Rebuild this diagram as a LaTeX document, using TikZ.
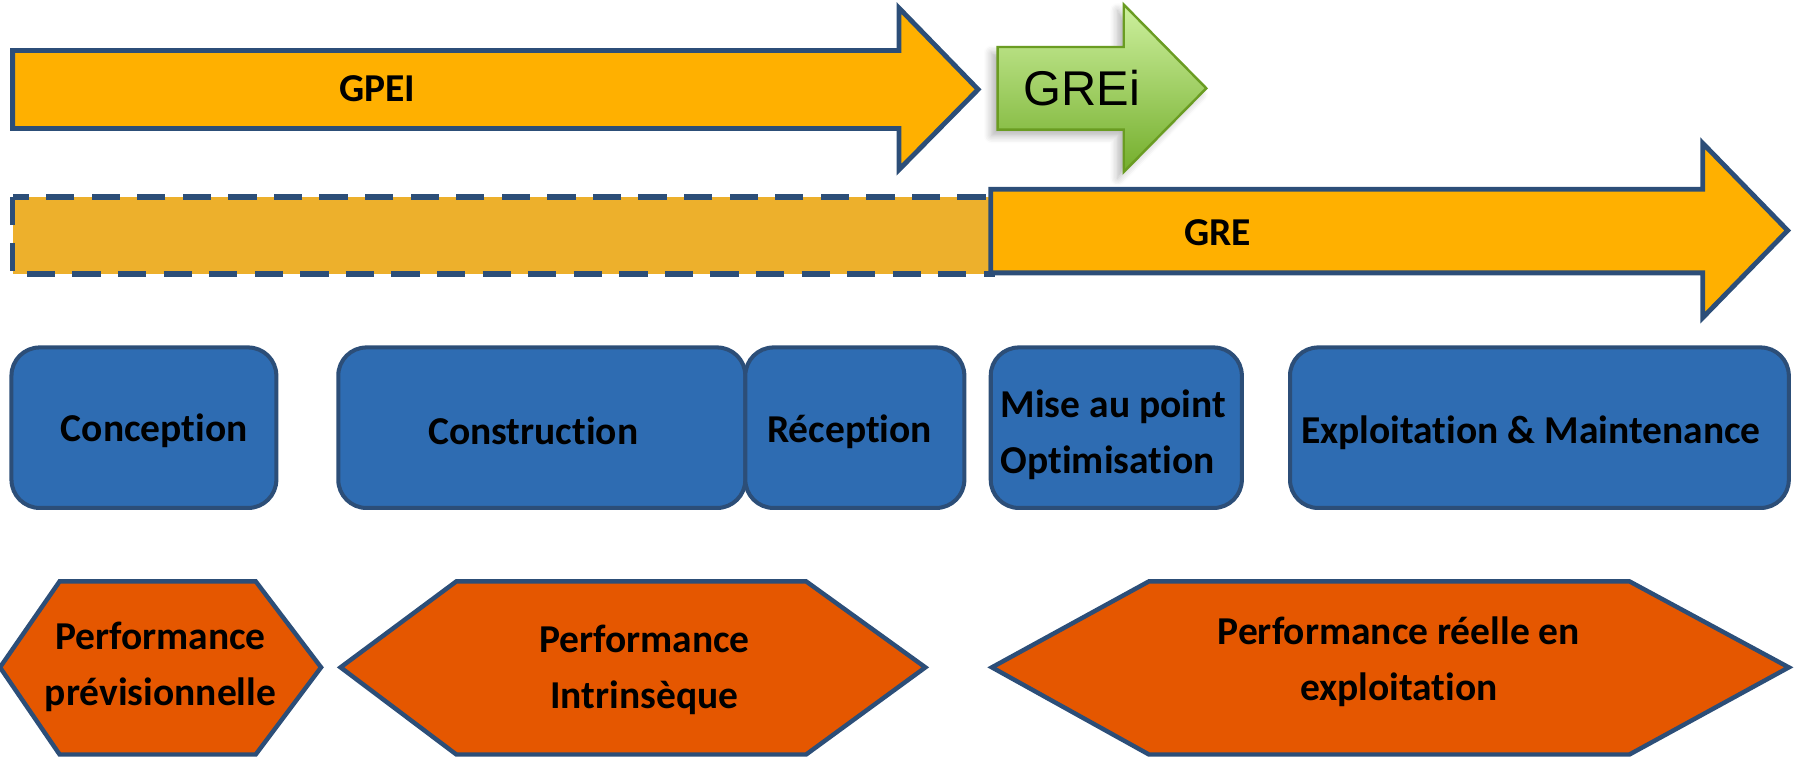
\documentclass[tikz,border=0pt]{standalone}
\usepackage{fontspec}
\setmainfont{Carlito}[Ligatures=NoCommon]
\newfontfamily\arialfont{Liberation Sans}
\usetikzlibrary{shadows.blur}
\definecolor{gold}{RGB}{255,176,0}
\definecolor{goldd}{RGB}{237,176,44}
\definecolor{navy}{RGB}{44,78,120}
\definecolor{boxblue}{RGB}{46,108,178}
\definecolor{hexor}{RGB}{229,87,0}
\definecolor{grtop}{RGB}{205,240,158}
\definecolor{grbot}{RGB}{116,174,44}
\definecolor{grline}{RGB}{106,156,34}
\begin{document}
\begin{tikzpicture}[x=0.01cm,y=-0.01cm,
  lbl/.style={font=\fontsize{9.8}{13.9}\selectfont\bfseries, inner sep=0pt, anchor=base},
  bandarrow/.style={fill=gold, draw=navy, line width=1.2pt, line join=miter},
  phasebox/.style={fill=boxblue, draw=navy, line width=1pt, rounded corners=7pt},
  hexa/.style={fill=hexor, draw=navy, line width=1.1pt, line join=miter}]
\useasboundingbox (0,0) rectangle (1568,661);

% top band: GPEI
\draw[bandarrow] (11,44) -- (784,44) -- (784,7) -- (853,78) -- (784,148) -- (784,112) -- (11,112) -- cycle;
\node[lbl] (tgpei) at (329,88.7) {GPEI};

% GREi
\path[top color=grtop, bottom color=grbot, draw=grline, line width=0.6pt, line join=miter,
  blur shadow={shadow xshift=-1.5pt, shadow yshift=-1.5pt, shadow blur steps=6, shadow opacity=30}]
  (870,41) -- (980,41) -- (980,4) -- (1052,77) -- (980,150) -- (980,113) -- (870,113) -- cycle;
\node[font=\arialfont\fontsize{12.1}{14}\selectfont, inner sep=0pt, anchor=base] (tgrei) at (943.6,92.4) {GREi};

% second band: dashed part and GRE
\draw[fill=goldd, draw=navy, line width=1.4pt, dash pattern=on 7pt off 4.3pt] (11,172) rectangle (865,239);
\draw[bandarrow] (864,165) -- (1485,165) -- (1485,125) -- (1559,201) -- (1485,277) -- (1485,238) -- (864,238) -- cycle;
\node[lbl] (tgre) at (1062,213.7) {GRE};

% phase boxes
\draw[phasebox] (10,303) rectangle (241,443);
\draw[phasebox] (295,303) rectangle (650,443);
\draw[phasebox] (650,303) rectangle (841,443);
\draw[phasebox] (864,303) rectangle (1083,443);
\draw[phasebox] (1125,303) rectangle (1560,443);
\node[lbl] (tconc) at (134.5,385) {Conception};
\node[lbl] (tconst) at (465,388) {Construction};
\node[lbl] (trecep) at (741,386) {Réception};
\node[lbl, anchor=base west, align=left] (tmise) at (872,413) {Mise au point\\Optimisation};
\node[lbl] (texpl) at (1335,387) {Exploitation \& Maintenance};

% performance hexagons
\draw[hexa] (0,582) -- (52,507) -- (223,507) -- (280,582) -- (223,658) -- (52,658) -- cycle;
\draw[hexa] (297,582) -- (398,507) -- (703,507) -- (807,582) -- (703,658) -- (398,658) -- cycle;
\draw[hexa] (865,582) -- (1002,507) -- (1421,507) -- (1560,582) -- (1421,658) -- (1002,658) -- cycle;
\node[lbl, align=center] (tp1) at (140,615) {Performance\\prévisionnelle};
\node[lbl, align=center] (tp2) at (562,618) {Performance\\Intrinsèque};
\node[lbl, align=center] (tp3) at (1220,611) {Performance réelle en\\exploitation};
\end{tikzpicture}
\end{document}
